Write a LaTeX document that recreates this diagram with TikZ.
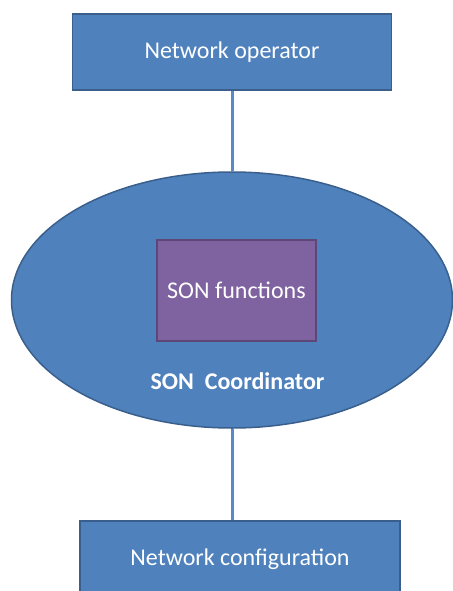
\documentclass[tikz,border=0pt]{standalone}
\usepackage{fontspec}
\setmainfont{Carlito}
\usetikzlibrary{shapes.geometric}
\definecolor{boxblue}{HTML}{4F81BD}
\definecolor{boxedge}{HTML}{3A5F8C}
\definecolor{boxpurple}{HTML}{7F63A1}
\definecolor{purpleedge}{HTML}{5C4776}
\definecolor{wireblue}{HTML}{5A8AC6}
\tikzset{
  labelfont/.style={text=white, font=\fontsize{24bp}{28bp}\selectfont},
  block/.style={draw=boxedge, fill=boxblue, line width=1.5bp, inner sep=0pt, labelfont},
  inner/.style={draw=purpleedge, fill=boxpurple, line width=1.5bp, inner sep=0pt, labelfont},
  wire/.style={draw=wireblue, line width=3bp}
}
\begin{document}
\begin{tikzpicture}[x=1bp,y=-1bp]
  \useasboundingbox (0,0) rectangle (453,591);
  \clip (0,0) rectangle (453,591);
  % operator at the top
  \node[block, minimum width=319bp, minimum height=76bp] (op) at (232,52) {Network operator};
  % coordinator with the functions inside
  \node[ellipse, draw=boxedge, fill=boxblue, line width=1.5bp, inner sep=0pt,
        minimum width=441bp, minimum height=256bp] (coord) at (232,300) {};
  \node[inner, minimum width=159bp, minimum height=101bp] (fun) at (236.5,290.5) {SON functions};
  \node[labelfont, font=\fontsize{24bp}{28bp}\selectfont\bfseries] (coordlabel) at (237.5,381) {SON\ \ Coordinator};
  % configuration box, running off the bottom edge
  \node[block, minimum width=320bp, minimum height=80bp] (conf) at (240,561) {};
  \node[labelfont] (conflabel) at (240,559) {Network configuration};
  % links
  \draw[wire] (op.south) -- (coord.north);
  \draw[wire] (coord.south) -- (coord.south |- conf.north);
\end{tikzpicture}
\end{document}
